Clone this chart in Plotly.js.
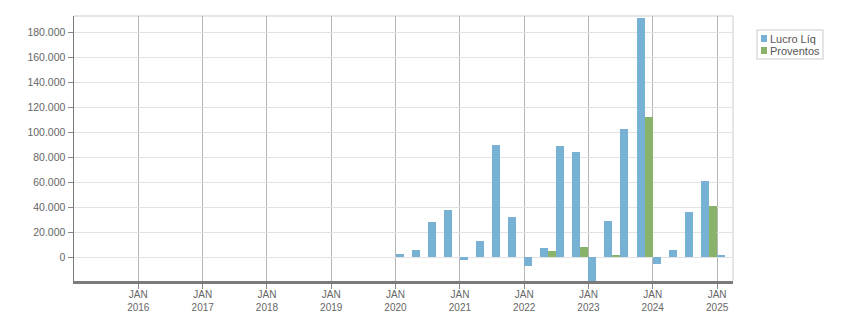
<!DOCTYPE html>
<html>
<head>
<meta charset="utf-8">
<script src="https://cdn.plot.ly/plotly-3.0.1.min.js"></script>
<style>
  html, body { margin: 0; padding: 0; background: #fff; }
  #chart { width: 851px; height: 313px; }
</style>
</head>
<body>
<div id="chart"></div>
<script>
// Quarter starts (2020 Q1 .. 2025 Q1)
const quarters = [
  "2020-01-01","2020-04-01","2020-07-01","2020-10-01",
  "2021-01-01","2021-04-01","2021-07-01","2021-10-01",
  "2022-01-01","2022-04-01","2022-07-01","2022-10-01",
  "2023-01-01","2023-04-01","2023-07-01","2023-10-01",
  "2024-01-01","2024-04-01","2024-07-01","2024-10-01",
  "2025-01-01"
];
const lucroLiq = [
  2700, 5900, 28200, 37800,
  -2100, 13000, 89800, 32200,
  -7000, 7400, 88900, 84200,
  -25000, 29000, 102600, 191500,
  -5400, 5900, 36200, 61000,
  1800
];
const proventos = [
  0, 0, 0, 0,
  0, 0, 0, 0,
  0, 5000, 0, 8200,
  0, 1800, 0, 112200,
  0, 0, 0, 41000,
  0
];
const seriesNames = ["Lucro Líq", "Proventos"];
const seriesColors = ["#77b1d3", "#89b26a"];
const tickDates = ["2016-01-01","2017-01-01","2018-01-01","2019-01-01","2020-01-01",
                   "2021-01-01","2022-01-01","2023-01-01","2024-01-01","2025-01-01"];
const tickLabels = ["JAN<br>2016","JAN<br>2017","JAN<br>2018","JAN<br>2019","JAN<br>2020",
                    "JAN<br>2021","JAN<br>2022","JAN<br>2023","JAN<br>2024","JAN<br>2025"];
const yTicks = [0, 20000, 40000, 60000, 80000, 100000, 120000, 140000, 160000, 180000];

// layout geometry (pixels)
const W = 851, H = 313;
const M = { l: 74, r: 118, t: 16, b: 32 };
const PW = W - M.l - M.r, PH = H - M.t - M.b;
const px = (x) => (x - M.l) / PW;           // pixel x -> paper
const py = (y) => (H - M.b - y) / PH;       // pixel y -> paper
const barWidthMs = 45.6 * 864e5;

const traces = [lucroLiq, proventos].map((vals, i) => ({
  type: "bar", name: seriesNames[i], x: quarters, y: vals,
  xperiod: "M3", xperiodalignment: "middle",
  width: barWidthMs,
  marker: { color: seriesColors[i] }, hoverinfo: "skip"
}));

// manual compact legend
const legendShapes = [
  { type: "rect", xref: "paper", yref: "paper",
    x0: px(757), x1: px(823), y0: py(59), y1: py(30),
    line: { color: "#dddddd", width: 1.5 }, fillcolor: "#ffffff" },
  { type: "rect", xref: "paper", yref: "paper",
    x0: px(761), x1: px(767), y0: py(42), y1: py(35),
    line: { width: 0 }, fillcolor: seriesColors[0] },
  { type: "rect", xref: "paper", yref: "paper",
    x0: px(761), x1: px(767), y0: py(54), y1: py(47),
    line: { width: 0 }, fillcolor: seriesColors[1] }
];
const legendTexts = [
  { text: seriesNames[0], xref: "paper", yref: "paper", x: px(768), y: py(39),
    xanchor: "left", yanchor: "middle", showarrow: false,
    font: { size: 11, color: "#555555" } },
  { text: seriesNames[1], xref: "paper", yref: "paper", x: px(768), y: py(51),
    xanchor: "left", yanchor: "middle", showarrow: false,
    font: { size: 11, color: "#555555" } }
];

const layout = {
  width: W, height: H,
  margin: { l: M.l, r: M.r, t: M.t, b: M.b, pad: 0 },
  paper_bgcolor: "#ffffff", plot_bgcolor: "#ffffff",
  font: { family: "Liberation Sans, Arial, sans-serif", size: 10.5, color: "#666666" },
  separators: ",.",
  barmode: "group", bargap: 0, bargroupgap: 0,
  showlegend: false,
  xaxis: {
    type: "date",
    range: ["2015-01-01", "2025-04-01"],
    tickmode: "array", tickvals: tickDates, ticktext: tickLabels,
    showgrid: true, gridcolor: "#b5b5b5", gridwidth: 1,
    ticks: "outside", ticklen: 5, tickcolor: "#888888", tickwidth: 1,
    ticklabelstandoff: -3,
    showline: true, linecolor: "#7a7a7a", linewidth: 2.5,
    tickfont: { size: 10, color: "#666666" },
    zeroline: false, fixedrange: true, automargin: false
  },
  yaxis: {
    range: [-19000, 193000],
    tickmode: "array", tickvals: yTicks, tickformat: ",.0f",
    showgrid: true, gridcolor: "#e2e2e2", gridwidth: 1,
    zeroline: true, zerolinecolor: "#e2e2e2", zerolinewidth: 1,
    ticks: "outside", ticklen: 5, tickcolor: "#888888", tickwidth: 1,
    showline: true, linecolor: "#7a7a7a", linewidth: 1.5,
    tickfont: { size: 10.5, color: "#666666" },
    fixedrange: true, automargin: false
  },
  shapes: [
    { type: "line", xref: "paper", yref: "paper", x0: 0, x1: 1, y0: 1, y1: 1,
      line: { color: "#dddddd", width: 1.5 }, layer: "below" },
    { type: "line", xref: "paper", yref: "paper", x0: 1, x1: 1, y0: 0, y1: 1,
      line: { color: "#dddddd", width: 1.5 }, layer: "below" }
  ].concat(legendShapes),
  annotations: legendTexts
};

Plotly.newPlot("chart", traces, layout, { displayModeBar: false, staticPlot: true });
</script>
</body>
</html>
